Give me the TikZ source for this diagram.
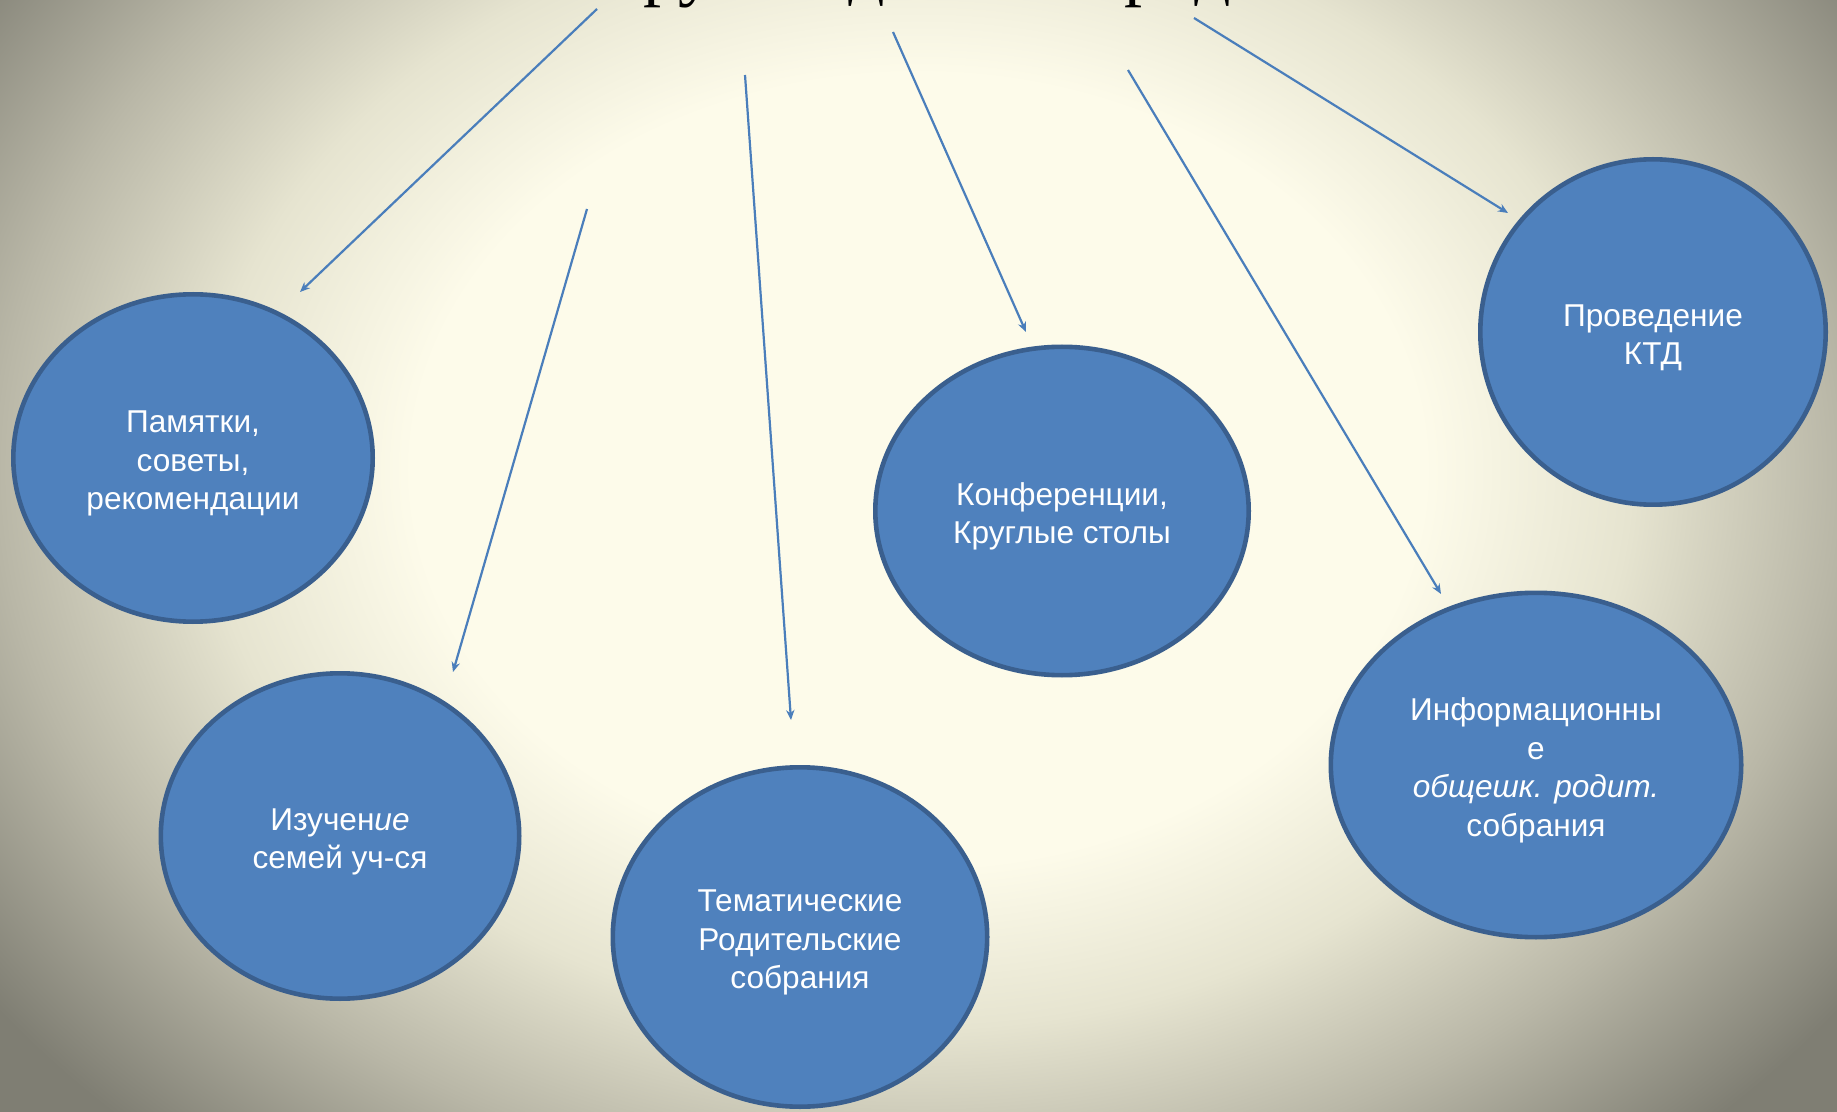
\documentclass[tikz,border=0pt]{standalone}
\usepackage{fontspec}
\setmainfont{Liberation Sans}
\newfontfamily\titlefont{Liberation Serif}
\usetikzlibrary{shapes.geometric,arrows.meta}
\definecolor{bgA}{HTML}{FDFBEA}
\definecolor{bgB}{HTML}{E6E4D0}
\definecolor{bgC}{HTML}{B9B7A7}
\definecolor{bgD}{HTML}{7F7E73}
\definecolor{ellfill}{HTML}{4F81BD}
\definecolor{elledge}{HTML}{3A5F8E}
\definecolor{arrowcol}{HTML}{4A7EBB}
\pgfdeclareradialshading{bgsh}{\pgfpoint{0bp}{0bp}}{color(0bp)=(bgA); color(11bp)=(bgA); color(15.5bp)=(bgB); color(20bp)=(bgC); color(25bp)=(bgD); color(50bp)=(bgD)}
\newcommand{\liftline}{\rule{0pt}{16.6pt}}
\begin{document}
\begin{tikzpicture}[x=0.5pt,y=-0.5pt,
  bubble/.style={ellipse, draw=elledge, line width=2.3pt, fill=ellfill, text=white,
    inner sep=0pt, align=center, font=\fontsize{15.8}{19.3}\selectfont},
  link/.style={draw=arrowcol, line width=1.1pt, -{Stealth[length=5pt,width=4.2pt]}}]
\useasboundingbox (0,0) rectangle (1837,1112);
\begin{scope}
  \clip (0,0) rectangle (1837,1112);
  \shade[shading=bgsh] (-232,-430) rectangle (2068,1370);
  \node[anchor=base, inner sep=0pt, font=\titlefont\fontsize{36}{40}\selectfont] (title) at (790,-7) {Работа классного руководителя с родителями};
\end{scope}

\node[bubble, minimum width=179.7pt, minimum height=163.7pt] (pam) at (193,458) {\liftline Памятки,\\советы,\\рекомендации};
\node[bubble, minimum width=179.2pt, minimum height=162.7pt] (izu) at (340,836) {\liftline Изучен\textit{ие}\\семей уч-ся};
\node[bubble, minimum width=187.2pt, minimum height=169.7pt] (tem) at (800,937) {\liftline Тематические\\Родительские\\собрания};
\node[bubble, minimum width=186.7pt, minimum height=164.2pt] (kon) at (1062,511) {\liftline Конференции,\\Круглые столы};
\node[bubble, minimum width=205.2pt, minimum height=172.2pt] (inf) at (1536,765) {\liftline Информационны\\е\\\textit{общешк. родит.}\\собрания};
\node[bubble, minimum width=172.7pt, minimum height=172.7pt] (pro) at (1653,332) {\liftline Проведение\\КТД};

\coordinate (a1s) at (597,9);    \coordinate (a1e) at (300,292);
\coordinate (a2s) at (587,209);  \coordinate (a2e) at (453,672);
\coordinate (a3s) at (745,75);   \coordinate (a3e) at (791,720);
\coordinate (a4s) at (893,32);   \coordinate (a4e) at (1026,332);
\coordinate (a5s) at (1128,70);  \coordinate (a5e) at (1441,594);
\coordinate (a6s) at (1194,18);  \coordinate (a6e) at (1508,213);

\draw[link] (a1s) -- (a1e);
\draw[link] (a2s) -- (a2e);
\draw[link] (a3s) -- (a3e);
\draw[link] (a4s) -- (a4e);
\draw[link] (a5s) -- (a5e);
\draw[link] (a6s) -- (a6e);
\end{tikzpicture}
\end{document}
